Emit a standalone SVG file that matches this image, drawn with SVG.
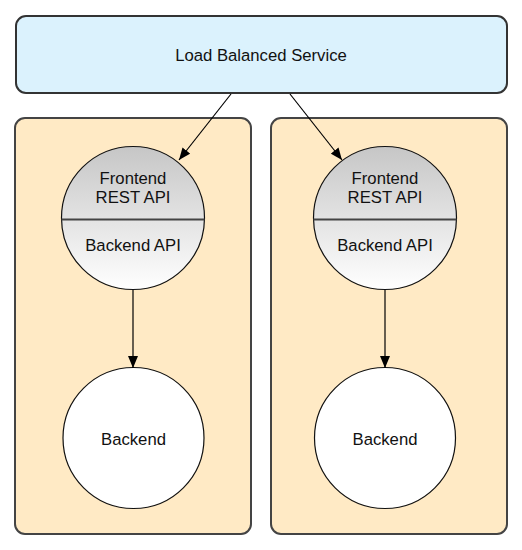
<svg xmlns="http://www.w3.org/2000/svg" width="522" height="550" viewBox="0 0 522 550">
  <style>
    .lbl { font-family: "Liberation Sans", Arial, sans-serif; font-size: 16.7px; fill: #111; text-anchor: middle; }
    .container { fill: #ffeac5; stroke: #444; stroke-width: 2; }
    .service { fill: #dbf2fd; stroke: #333; stroke-width: 2; }
    .api { fill: url(#gray); stroke: #111; stroke-width: 1.2; }
    .backend { fill: #fff; stroke: #111; stroke-width: 1.2; }
    .divider { stroke: #444; stroke-width: 2; }
    .conn { stroke: #000; stroke-width: 1.2; fill: none; marker-end: url(#arrow); }
  </style>
  <defs>
    <linearGradient id="gray" x1="0" y1="0" x2="0" y2="1">
      <stop offset="0" stop-color="#c6c6c6"/>
      <stop offset="1" stop-color="#ffffff"/>
    </linearGradient>
    <marker id="arrow" viewBox="0 0 12 10" refX="12" refY="5" markerWidth="12" markerHeight="10" markerUnits="userSpaceOnUse" orient="auto">
      <path d="M0,0 L12,5 L0,10 z" fill="#000"/>
    </marker>
  </defs>

  <g id="service">
    <rect class="service" x="16" y="16" width="491" height="77" rx="10" ry="10"/>
    <text class="lbl" x="261" y="61">Load Balanced Service</text>
  </g>

  <g id="container-left">
    <rect class="container" x="15" y="118" width="236" height="416" rx="10" ry="10"/>
  </g>
  <g id="container-right">
    <rect class="container" x="271" y="118" width="236" height="416" rx="10" ry="10"/>
  </g>

  <g id="api-left">
    <circle class="api" cx="133" cy="218" r="71.5"/>
    <line class="divider" x1="61.5" y1="219.5" x2="204.5" y2="219.5"/>
    <text class="lbl" x="133" y="184">Frontend</text>
    <text class="lbl" x="133" y="203">REST API</text>
    <text class="lbl" x="133" y="251">Backend API</text>
  </g>
  <g id="api-right">
    <circle class="api" cx="385" cy="218" r="71.5"/>
    <line class="divider" x1="313.5" y1="219.5" x2="456.5" y2="219.5"/>
    <text class="lbl" x="385" y="184">Frontend</text>
    <text class="lbl" x="385" y="203">REST API</text>
    <text class="lbl" x="385" y="251">Backend API</text>
  </g>

  <g id="backend-left">
    <circle class="backend" cx="133.5" cy="438" r="70.5"/>
    <text class="lbl" x="133.5" y="445">Backend</text>
  </g>
  <g id="backend-right">
    <circle class="backend" cx="385" cy="438" r="70.5"/>
    <text class="lbl" x="385" y="445">Backend</text>
  </g>

  <g id="connectors">
    <line class="conn" x1="231" y1="94" x2="179" y2="160"/>
    <line class="conn" x1="290" y1="94" x2="342" y2="160"/>
    <line class="conn" x1="133" y1="290" x2="133" y2="368"/>
    <line class="conn" x1="385" y1="290" x2="385" y2="368"/>
  </g>
</svg>
